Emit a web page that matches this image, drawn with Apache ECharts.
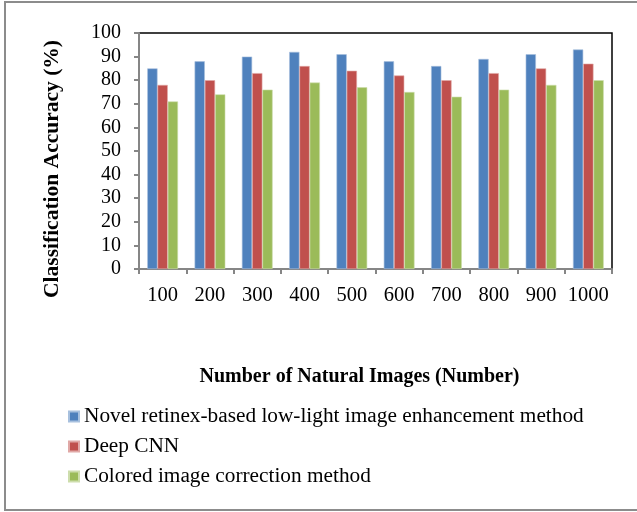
<!DOCTYPE html>
<html>
<head>
<meta charset="utf-8">
<script src="https://cdn.jsdelivr.net/npm/echarts@6/dist/echarts.min.js"></script>
<style>
  html, body { margin: 0; padding: 0; background: #fff; }
  #chart { width: 637px; height: 512px; }
</style>
</head>
<body>
<div id="chart"></div>
<script>
const categories = ['100', '200', '300', '400', '500', '600', '700', '800', '900', '1000'];
const seriesNames = [
  'Novel retinex-based low-light image enhancement method',
  'Deep CNN',
  'Colored image correction method'
];
const novelRetinex = [85, 88, 90, 92, 91, 88, 86, 89, 91, 93];
const deepCnn = [78, 80, 83, 86, 84, 82, 80, 83, 85, 87];
const coloredCorrection = [71, 74, 76, 79, 77, 75, 73, 76, 78, 80];
const colors = ['#4F81BD', '#C0504D', '#9BBB59'];
const edgeColors = ['#A7C0DE', '#E0A8A6', '#CDDDAC'];

const font = '"Liberation Serif", "Times New Roman", serif';
const chart = echarts.init(document.getElementById('chart'));

const makeSeries = (name, data, i) => ({
  name: name,
  type: 'bar',
  data: data,
  barGap: '0%',
  barCategoryGap: '35%',
  itemStyle: { color: colors[i], borderColor: edgeColors[i], borderWidth: 0.6 }
});

chart.setOption({
  animation: false,
  textStyle: { fontFamily: font },
  graphic: [
    {
      type: 'rect',
      shape: { x: 5, y: 2, width: 640, height: 508 },
      style: { fill: 'none', stroke: '#8c8c8c', lineWidth: 2 },
      z: -1
    },
    {
      // y axis title, placed like the spreadsheet original (a bit below centre)
      type: 'text',
      x: 52, y: 169,
      rotation: Math.PI / 2,
      style: {
        text: 'Classification Accuracy (%)',
        font: 'bold 21.5px ' + font,
        fill: '#000',
        align: 'center',
        verticalAlign: 'middle'
      }
    }
  ],
  grid: {
    left: 139, top: 33, right: 25, bottom: 243,
    show: true, borderColor: '#000', borderWidth: 1.5
  },
  legend: {
    orient: 'vertical',
    left: 68, top: 406, padding: 0,
    itemWidth: 10, itemHeight: 10, itemGap: 9,
    icon: 'rect',
    textStyle: { fontFamily: font, fontSize: 21.3, color: '#000', padding: 0 },
    data: seriesNames
  },
  xAxis: {
    type: 'category',
    data: categories,
    name: 'Number of Natural Images (Number)',
    nameLocation: 'middle',
    nameGap: 98,
    nameTextStyle: { fontFamily: font, fontSize: 20, fontWeight: 'bold', color: '#000', padding: [0, 32, 0, 0] },
    axisLine: { lineStyle: { color: '#868686', width: 2 } },
    axisTick: { show: true, length: 5, lineStyle: { color: '#868686', width: 2 } },
    axisLabel: { interval: 0, fontFamily: font, fontSize: 20.5, color: '#000', margin: 16 }
  },
  yAxis: {
    type: 'value',
    min: 0, max: 100, interval: 10,
    axisLine: { show: true, lineStyle: { color: '#868686', width: 2 } },
    axisTick: { show: true, length: 5, lineStyle: { color: '#868686', width: 2 } },
    splitLine: { show: false },
    axisLabel: { fontFamily: font, fontSize: 20, color: '#000', margin: 18 }
  },
  series: [
    makeSeries(seriesNames[0], novelRetinex, 0),
    makeSeries(seriesNames[1], deepCnn, 1),
    makeSeries(seriesNames[2], coloredCorrection, 2)
  ]
});
</script>
</body>
</html>
